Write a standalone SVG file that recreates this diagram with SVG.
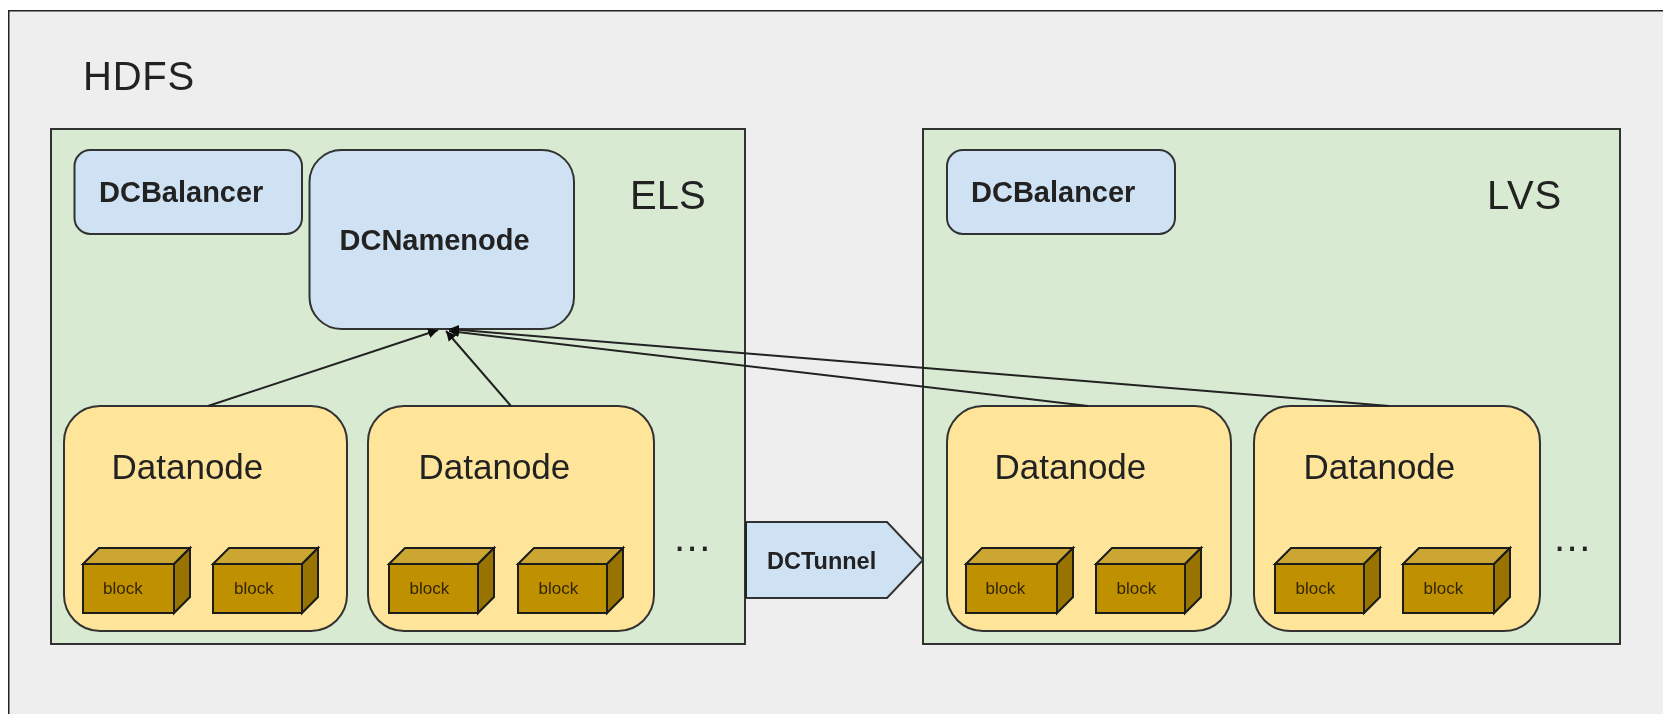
<svg xmlns="http://www.w3.org/2000/svg" width="1663" height="714" viewBox="0 0 1663 714">
<style>
text{font-family:"Liberation Sans",Arial,sans-serif;fill:#222}
.t40{font-size:40px}
.dn{font-size:35px}
.bd{font-size:29px;font-weight:700}
.bl{font-size:17px;fill:#332600}
.dots{font-size:40px;letter-spacing:1.500px}
.region{fill:#d9ead3;stroke:#333;stroke-width:2}
.blue{fill:#cfe2f3;stroke:#333;stroke-width:2}
.data{fill:#ffe599;stroke:#333;stroke-width:2}
.edge{fill:none;stroke:#222;stroke-width:2;marker-end:url(#arrow)}
.front{fill:#bf9000}
.top{fill:#cca633}
.side{fill:#997300}
.bx path,.bx rect{stroke:#1a1a1a;stroke-width:2;stroke-linejoin:miter}
</style>
<defs>
<marker id="arrow" markerUnits="userSpaceOnUse" markerWidth="12" markerHeight="12" refX="10" refY="5" orient="auto">
<path d="M0 0L10 5L0 10Z" fill="#111"/>
</marker>
<filter id="soft" x="0" y="0" width="100%" height="100%"><feGaussianBlur stdDeviation="0.55"/></filter>
<g id="block-wide" class="bx">
<path class="top" d="M0 16L16 0H107L91 16Z"/>
<path class="side" d="M91 16L107 0V49L91 65Z"/>
<rect class="front" x="0" y="16" width="91" height="49"/>
</g>
<g id="block-narrow" class="bx">
<path class="top" d="M0 16L16 0H105L89 16Z"/>
<path class="side" d="M89 16L105 0V49L89 65Z"/>
<rect class="front" x="0" y="16" width="89" height="49"/>
</g>
</defs>
<rect width="1663" height="714" fill="#fff"/>
<g filter="url(#soft)">
<g id="frame"><rect x="8" y="10" width="1680" height="730" fill="#eeeeee" stroke="#222" stroke-width="3"/></g>
<text class="t40" x="83" y="90" style="letter-spacing:.8px">HDFS</text>
<g id="els"><rect class="region" x="51" y="129" width="694" height="515"/><text class="t40" x="630" y="209">ELS</text></g>
<g id="lvs"><rect class="region" x="923" y="129" width="697" height="515"/><text class="t40" x="1487" y="209" style="letter-spacing:.8px">LVS</text></g>
<g id="dcbalancer-els"><rect class="blue" x="74.500" y="150" width="227.500" height="84" rx="16"/><text class="bd" x="99" y="202">DCBalancer</text></g>
<g id="dcnamenode"><rect class="blue" x="309.500" y="150" width="264.500" height="179" rx="32"/><text class="bd" x="339.500" y="250">DCNamenode</text></g>
<g id="dcbalancer-lvs"><rect class="blue" x="947" y="150" width="228" height="84" rx="16"/><text class="bd" x="971" y="202">DCBalancer</text></g>
<g id="datanode-1"><rect class="data" x="64" y="406" width="283" height="225" rx="36"/><text class="dn" x="111.500" y="479">Datanode</text>
<use href="#block-wide" x="83" y="548"/><use href="#block-narrow" x="213" y="548"/>
<text class="bl" x="103" y="594">block</text><text class="bl" x="234" y="594">block</text></g>
<g id="datanode-2"><rect class="data" x="368" y="406" width="286" height="225" rx="36"/><text class="dn" x="418.500" y="479">Datanode</text>
<use href="#block-narrow" x="389" y="548"/><use href="#block-narrow" x="518" y="548"/>
<text class="bl" x="409.500" y="594">block</text><text class="bl" x="538.500" y="594">block</text></g>
<g id="datanode-3"><rect class="data" x="947" y="406" width="284" height="225" rx="36"/><text class="dn" x="994.500" y="479">Datanode</text>
<use href="#block-wide" x="966" y="548"/><use href="#block-narrow" x="1096" y="548"/>
<text class="bl" x="985.500" y="594">block</text><text class="bl" x="1116.500" y="594">block</text></g>
<g id="datanode-4"><rect class="data" x="1254" y="406" width="286" height="225" rx="36"/><text class="dn" x="1303.500" y="479">Datanode</text>
<use href="#block-narrow" x="1275" y="548"/><use href="#block-wide" x="1403" y="548"/>
<text class="bl" x="1295.500" y="594">block</text><text class="bl" x="1423.500" y="594">block</text></g>
<g id="dots-els"><text class="dots" x="674" y="551">...</text></g>
<g id="dots-lvs"><text class="dots" x="1554" y="551">...</text></g>
<g id="dctunnel"><path class="blue" d="M746 522H887L923 560L887 598H746Z"/><path d="M746 522V598" stroke="#222" stroke-width="2" fill="none"/><text x="767" y="569" style="font-size:23.500px;font-weight:700">DCTunnel</text></g>
<g id="connectors">
<path class="edge" d="M208 406L438 330"/>
<path class="edge" d="M511 406L446 331"/>
<path class="edge" d="M1088 406L449 331"/>
<path class="edge" d="M1389 406L449 329"/>
</g>
</g>
</svg>
